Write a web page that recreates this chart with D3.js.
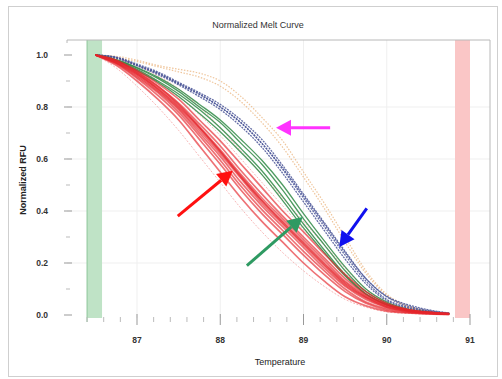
<!DOCTYPE html>
<html>
<head>
<meta charset="utf-8">
<script src="https://cdn.jsdelivr.net/npm/d3@7"></script>
<style>
  body { margin: 0; background: #fff; }
  svg { display: block; font-family: "Liberation Sans", Arial, sans-serif; }
</style>
</head>
<body>
<svg id="chart" width="502" height="379"></svg>
<script>
// temperatures (°C) of the sampled points
const temps = [86.5, 86.75, 87, 87.25, 87.5, 87.75, 88, 88.25, 88.5, 88.75, 89, 89.25, 89.5, 89.75, 90, 90.25, 90.5, 90.75];

// normalized RFU per well, grouped by the colour they were drawn in
const redWells = [
  [1.00, 0.96, 0.90, 0.83, 0.75, 0.65, 0.55, 0.45, 0.36, 0.28, 0.20, 0.13, 0.07, 0.035, 0.015, 0.008, 0.004, 0.002],
  [1.00, 0.965, 0.91, 0.845, 0.77, 0.675, 0.58, 0.48, 0.39, 0.31, 0.23, 0.155, 0.09, 0.045, 0.02, 0.01, 0.005, 0.002],
  [1.00, 0.97, 0.92, 0.86, 0.79, 0.70, 0.61, 0.51, 0.42, 0.34, 0.26, 0.18, 0.11, 0.06, 0.03, 0.015, 0.008, 0.004],
  [1.00, 0.975, 0.93, 0.87, 0.80, 0.72, 0.63, 0.53, 0.44, 0.36, 0.28, 0.20, 0.125, 0.07, 0.035, 0.018, 0.009, 0.004],
  [1.00, 0.98, 0.935, 0.88, 0.815, 0.735, 0.65, 0.555, 0.465, 0.38, 0.30, 0.22, 0.14, 0.08, 0.04, 0.02, 0.01, 0.005],
  [1.00, 0.98, 0.94, 0.89, 0.83, 0.75, 0.67, 0.58, 0.49, 0.40, 0.32, 0.235, 0.155, 0.09, 0.045, 0.022, 0.011, 0.005],
  [1.00, 0.97, 0.925, 0.865, 0.795, 0.71, 0.62, 0.525, 0.43, 0.35, 0.27, 0.19, 0.115, 0.065, 0.03, 0.015, 0.008, 0.003],
  [1.00, 0.968, 0.915, 0.855, 0.78, 0.69, 0.595, 0.495, 0.405, 0.325, 0.245, 0.17, 0.10, 0.05, 0.025, 0.012, 0.006, 0.003],
  [1.00, 0.975, 0.935, 0.88, 0.81, 0.725, 0.635, 0.54, 0.45, 0.37, 0.29, 0.21, 0.13, 0.075, 0.04, 0.02, 0.01, 0.005],
  [1.00, 0.972, 0.928, 0.872, 0.805, 0.72, 0.628, 0.533, 0.44, 0.355, 0.275, 0.195, 0.12, 0.068, 0.034, 0.017, 0.008, 0.004]
];
const pinkWells = [
  [1.00, 0.95, 0.88, 0.80, 0.71, 0.61, 0.51, 0.41, 0.32, 0.24, 0.17, 0.11, 0.06, 0.03, 0.012, 0.006, 0.003, 0.001],
  [1.00, 0.985, 0.95, 0.90, 0.84, 0.77, 0.69, 0.60, 0.51, 0.42, 0.33, 0.24, 0.16, 0.09, 0.045, 0.02, 0.01, 0.004],
  [1.00, 0.99, 0.96, 0.92, 0.87, 0.80, 0.72, 0.63, 0.54, 0.45, 0.36, 0.27, 0.18, 0.10, 0.05, 0.025, 0.012, 0.005]
];
const greenWells = [
  [1.00, 0.98, 0.95, 0.91, 0.86, 0.80, 0.74, 0.66, 0.58, 0.48, 0.37, 0.27, 0.17, 0.09, 0.045, 0.02, 0.01, 0.004],
  [1.00, 0.978, 0.945, 0.90, 0.85, 0.79, 0.72, 0.64, 0.555, 0.455, 0.35, 0.25, 0.155, 0.082, 0.04, 0.018, 0.008, 0.003],
  [1.00, 0.982, 0.952, 0.915, 0.868, 0.81, 0.75, 0.675, 0.595, 0.50, 0.39, 0.285, 0.185, 0.10, 0.05, 0.023, 0.011, 0.004],
  [1.00, 0.976, 0.94, 0.895, 0.84, 0.775, 0.705, 0.625, 0.54, 0.44, 0.335, 0.24, 0.15, 0.08, 0.04, 0.018, 0.008, 0.003]
];
const blueWells = [
  [1.00, 0.99, 0.96, 0.93, 0.89, 0.85, 0.80, 0.74, 0.66, 0.56, 0.45, 0.34, 0.23, 0.13, 0.06, 0.03, 0.015, 0.005],
  [1.00, 0.988, 0.958, 0.925, 0.885, 0.84, 0.79, 0.725, 0.645, 0.545, 0.435, 0.325, 0.215, 0.12, 0.055, 0.027, 0.013, 0.005],
  [1.00, 0.992, 0.965, 0.935, 0.895, 0.855, 0.81, 0.75, 0.675, 0.575, 0.465, 0.355, 0.245, 0.14, 0.07, 0.035, 0.017, 0.006],
  [1.00, 0.99, 0.962, 0.93, 0.89, 0.848, 0.80, 0.738, 0.66, 0.565, 0.458, 0.35, 0.24, 0.14, 0.072, 0.04, 0.02, 0.008]
];
const orangeWells = [
  [1.00, 0.995, 0.98, 0.96, 0.945, 0.93, 0.90, 0.84, 0.76, 0.67, 0.55, 0.43, 0.30, 0.17, 0.08, 0.035, 0.015, 0.005],
  [1.00, 0.99, 0.975, 0.955, 0.935, 0.915, 0.88, 0.82, 0.74, 0.645, 0.53, 0.41, 0.28, 0.16, 0.075, 0.032, 0.013, 0.004]
];

const xTicks = [87, 88, 89, 90, 91];
const yTicks = [0, 0.2, 0.4, 0.6, 0.8, 1.0];
const preMeltRegion = [86.4, 86.58];
const postMeltRegion = [90.82, 91.0];

// annotation arrows, [tailT, tailRFU, tipT, tipRFU]
const arrows = [
  { color: '#ff33ff', pts: [89.32, 0.72, 88.67, 0.72] },
  { color: '#ff1010', pts: [87.49, 0.38, 88.15, 0.555] },
  { color: '#2e9a62', pts: [88.32, 0.19, 88.99, 0.377] },
  { color: '#1010ee', pts: [89.76, 0.41, 89.43, 0.262] }
];

const svg = d3.select('#chart');
const frame = { left: 67, right: 490, top: 40, bottom: 318 };

const x = d3.scaleLinear().domain([87, 91]).range([137, 470]);
const y = d3.scaleLinear().domain([0, 1]).range([315, 55]);

// outer border
svg.append('rect')
  .attr('x', 8.5).attr('y', 6.5).attr('width', 489).attr('height', 370)
  .attr('fill', '#fff').attr('stroke', '#cfcfcf');

svg.append('text')
  .attr('x', 258).attr('y', 28)
  .attr('text-anchor', 'middle')
  .attr('font-size', 9).attr('fill', '#333')
  .text('Normalized Melt Curve');

// light grid
svg.append('g').selectAll('line.gx').data(xTicks.slice(0, 4)).join('line')
  .attr('x1', d => x(d)).attr('x2', d => x(d))
  .attr('y1', frame.top).attr('y2', frame.bottom)
  .attr('stroke', '#efefef');
svg.append('g').selectAll('line.gy').data(yTicks.slice(1, 5)).join('line')
  .attr('x1', frame.left).attr('x2', frame.right)
  .attr('y1', d => y(d)).attr('y2', d => y(d))
  .attr('stroke', '#efefef');

// melt regions
svg.append('rect')
  .attr('x', x(preMeltRegion[0])).attr('width', x(preMeltRegion[1]) - x(preMeltRegion[0]))
  .attr('y', frame.top).attr('height', frame.bottom - frame.top)
  .attr('fill', '#bfe3c6');
svg.append('line')
  .attr('x1', x(preMeltRegion[0])).attr('x2', x(preMeltRegion[0]))
  .attr('y1', frame.top).attr('y2', frame.bottom + 4)
  .attr('stroke', '#8cc59a');
svg.append('rect')
  .attr('x', x(postMeltRegion[0])).attr('width', x(postMeltRegion[1]) - x(postMeltRegion[0]))
  .attr('y', frame.top).attr('height', frame.bottom - frame.top)
  .attr('fill', '#fac6c6');

// frame
svg.append('path')
  .attr('d', `M${frame.left},${frame.top + 3}V${frame.top}H${frame.right}V${frame.bottom}`)
  .attr('fill', 'none').attr('stroke', '#b8b8b8');

// y ticks
const yMinor = d3.range(0.1, 1.0, 0.2);
svg.append('g').selectAll('line').data(yTicks).join('line')
  .attr('x1', 64).attr('x2', 72)
  .attr('y1', d => y(d)).attr('y2', d => y(d))
  .attr('stroke', '#999');
svg.append('g').selectAll('line').data(yMinor).join('line')
  .attr('x1', 66).attr('x2', 70)
  .attr('y1', d => y(d)).attr('y2', d => y(d))
  .attr('stroke', '#bbb');
svg.append('g').selectAll('text').data(yTicks).join('text')
  .attr('x', 48).attr('y', d => y(d) + 3)
  .attr('text-anchor', 'end')
  .attr('font-size', 8.5).attr('font-weight', 'bold').attr('fill', '#333')
  .text(d3.format('.1f'));

// x ticks
const xMinor = d3.range(86.4, 91.2, 0.2).filter(t => Math.abs(t - Math.round(t)) > 0.05);
svg.append('g').selectAll('line').data(xTicks).join('line')
  .attr('x1', d => x(d)).attr('x2', d => x(d))
  .attr('y1', 314).attr('y2', 325)
  .attr('stroke', '#999');
svg.append('g').selectAll('line').data(xMinor).join('line')
  .attr('x1', d => x(d)).attr('x2', d => x(d))
  .attr('y1', 317).attr('y2', 322)
  .attr('stroke', '#bbb');
svg.append('g').selectAll('text').data(xTicks).join('text')
  .attr('x', d => x(d)).attr('y', 343)
  .attr('text-anchor', 'middle')
  .attr('font-size', 8.5).attr('font-weight', 'bold').attr('fill', '#333')
  .text(d => d);

svg.append('text')
  .attr('x', 280).attr('y', 365)
  .attr('text-anchor', 'middle')
  .attr('font-size', 9).attr('fill', '#222')
  .text('Temperature');

svg.append('text')
  .attr('transform', 'translate(26,180) rotate(-90)')
  .attr('text-anchor', 'middle')
  .attr('font-size', 9).attr('font-weight', 'bold').attr('fill', '#222')
  .text('Normalized RFU');

// curves
const line = d3.line()
  .x((d, i) => x(temps[i]))
  .y(d => y(d))
  .curve(d3.curveMonotoneX);

function drawWells(wells, color, width, opacity, dash) {
  svg.append('g').selectAll('path').data(wells).join('path')
    .attr('d', line)
    .attr('fill', 'none')
    .attr('stroke', color)
    .attr('stroke-width', width)
    .attr('stroke-opacity', opacity)
    .attr('stroke-dasharray', dash);
}

drawWells(pinkWells, '#f39a9a', 1, 0.7, '2,1.5');
drawWells(orangeWells, '#e9b27a', 1.2, 0.75, '1.5,1.5');
drawWells(blueWells, '#4a5596', 1.3, 0.85, '2,1');
drawWells(greenWells, '#2f8a45', 1.3, 0.85, null);
drawWells(redWells, '#e5252b', 1.7, 0.65, null);

// arrows
const arrowG = svg.append('g');
arrows.forEach(a => {
  const [t0, v0, t1, v1] = a.pts;
  const x0 = x(t0), y0 = y(v0), x1 = x(t1), y1 = y(v1);
  const ang = Math.atan2(y1 - y0, x1 - x0);
  const headLen = 15, headHalf = 8;
  const bx = x1 - headLen * Math.cos(ang), by = y1 - headLen * Math.sin(ang);
  arrowG.append('line')
    .attr('x1', x0).attr('y1', y0).attr('x2', bx).attr('y2', by)
    .attr('stroke', a.color).attr('stroke-width', 3);
  const px = -Math.sin(ang) * headHalf, py = Math.cos(ang) * headHalf;
  arrowG.append('polygon')
    .attr('points', [[x1, y1], [bx + px, by + py], [bx - px, by - py]].map(p => p.join(',')).join(' '))
    .attr('fill', a.color);
});
</script>
</body>
</html>
